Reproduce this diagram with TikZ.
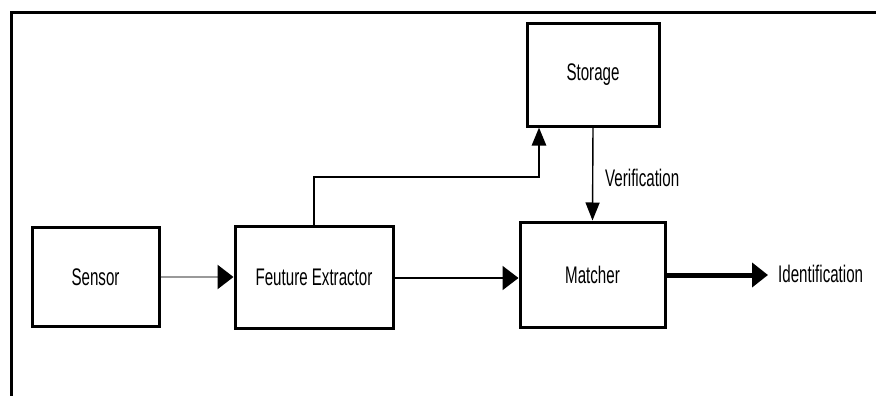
\documentclass[tikz,border=0pt]{standalone}
\usepackage{fontspec}
\setmainfont{Liberation Sans}
\usetikzlibrary{arrows.meta}
\newcommand\sqtext[1]{\scalebox{0.63}[1]{#1}}
\begin{document}
\begin{tikzpicture}[x=1pt,y=-1pt,
  blk/.style={draw=black,line width=3pt,fill=white,rectangle,inner sep=0pt,font=\fontsize{24}{26}\selectfont},
  lbl/.style={font=\fontsize{24}{26}\selectfont,inner sep=0pt},
  htip/.style={-{Triangle[length=16pt,width=24pt,color=black]}},
  vtip/.style={-{Triangle[length=18pt,width=14pt,color=black]}}]
\useasboundingbox (0,0) rectangle (876,396);
\draw[line width=3pt] (11,396) -- (11,12.5) -- (876,12.5);
\node[blk,minimum width=127pt,minimum height=99pt] (sensor) at (95.5,277) {\sqtext{Sensor}};
\node[blk,minimum width=158pt,minimum height=102pt] (fe) at (314,277) {\sqtext{Feuture Extractor}};
\node[blk,minimum width=132pt,minimum height=102pt] (storage) at (593,75) {\sqtext{Storage}};
\node[blk,minimum width=145pt,minimum height=105pt] (matcher) at (592.5,274.5) {\sqtext{Matcher}};
\node[lbl,anchor=west] (ident) at (778,274) {\sqtext{Identification}};
\node[lbl,anchor=west] (verif) at (605,178) {\sqtext{Verification}};
\coordinate (c1) at (539,177);
\coordinate (idtip) at (768,275);
\draw[htip,line width=2.4pt,draw=black!40] (sensor.east) -- (fe.west);
\draw[htip,line width=2pt] ([yshift=-1pt]fe.east) -- ([yshift=-1pt]fe.east -| matcher.west);
\draw[htip,line width=5pt] (matcher.east |- idtip) -- (idtip);
\draw[vtip,line width=2.6pt] (fe.north) |- (c1) -- (c1 |- storage.south);
\draw[vtip,line width=1.4pt] (storage.south) -- (matcher.north);
\end{tikzpicture}
\end{document}
